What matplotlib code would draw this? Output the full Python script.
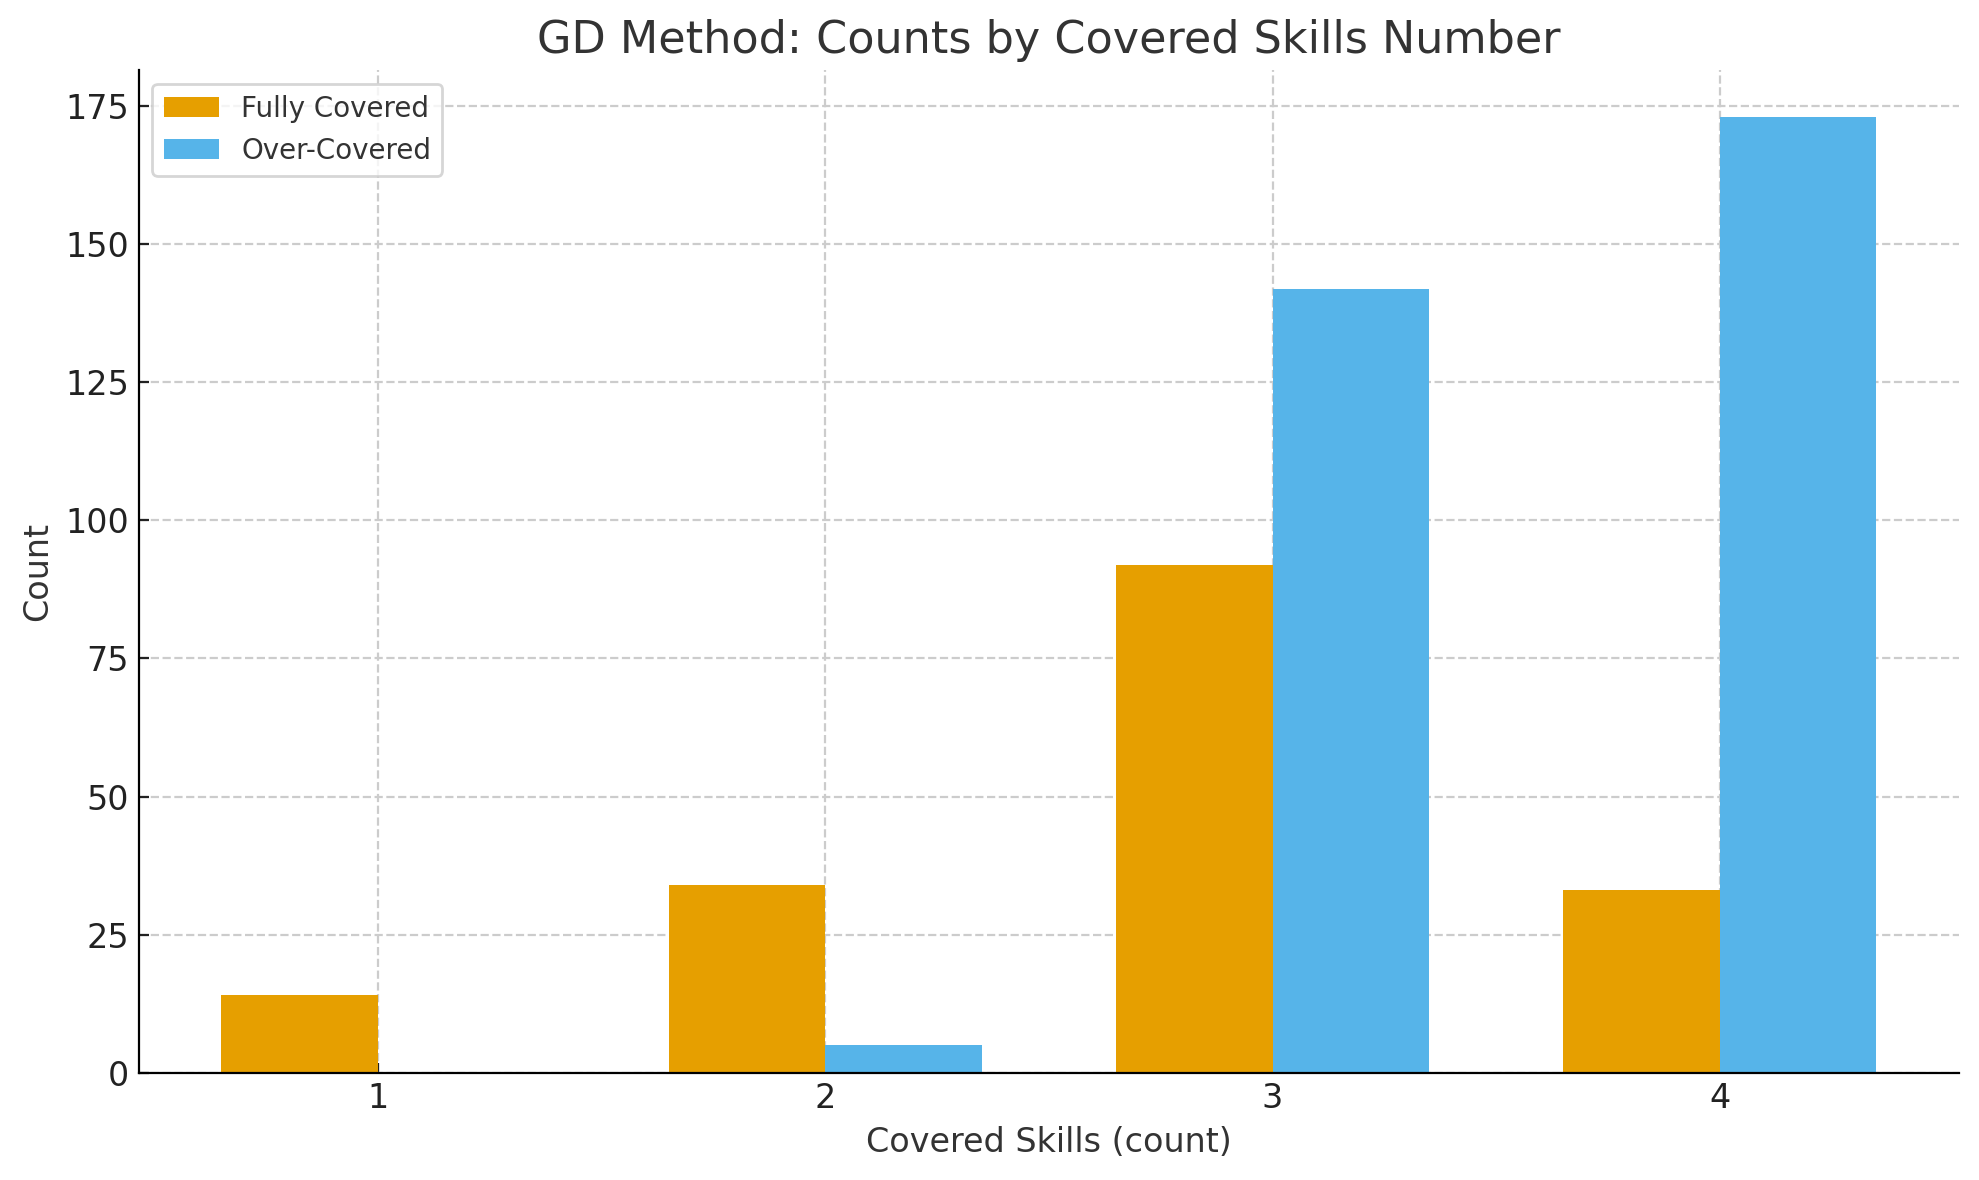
import matplotlib
matplotlib.use("Agg")
import matplotlib.pyplot as plt
import numpy as np

# data
skills = [1, 2, 3, 4]
fully_covered = [14, 34, 92, 33]
over_covered = [0, 5, 142, 173]

ORANGE = "#E69F00"
BLUE = "#56B4E9"
TEXT = "#333333"

fig, ax = plt.subplots(figsize=(9.895, 5.9), dpi=200)
fig.subplots_adjust(left=0.070, right=0.990, top=0.941, bottom=0.091)

x = np.array(skills)
width = 0.35
ax.bar(x - width / 2, fully_covered, width, color=ORANGE, label="Fully Covered", zorder=2)
ax.bar(x + width / 2, over_covered, width, color=BLUE, label="Over-Covered", zorder=2)

ax.set_xticks(x)
ax.set_xticklabels([str(s) for s in skills])
ax.set_title("GD Method: Counts by Covered Skills Number", fontsize=16, color=TEXT)
ax.set_xlabel("Covered Skills (count)", fontsize=12, color=TEXT)
ax.set_ylabel("Count", fontsize=12, color=TEXT)
ax.tick_params(axis="both", labelsize=12, direction="in", colors="#222222")

ax.spines["top"].set_visible(False)
ax.spines["right"].set_visible(False)
ax.grid(True, linestyle="--", color="#cccccc", linewidth=0.8, zorder=0)
ax.set_axisbelow(True)

leg = ax.legend(loc="upper left", fontsize=10, frameon=True)
for t in leg.get_texts():
    t.set_color(TEXT)

fig.savefig("out.png", dpi=200)
